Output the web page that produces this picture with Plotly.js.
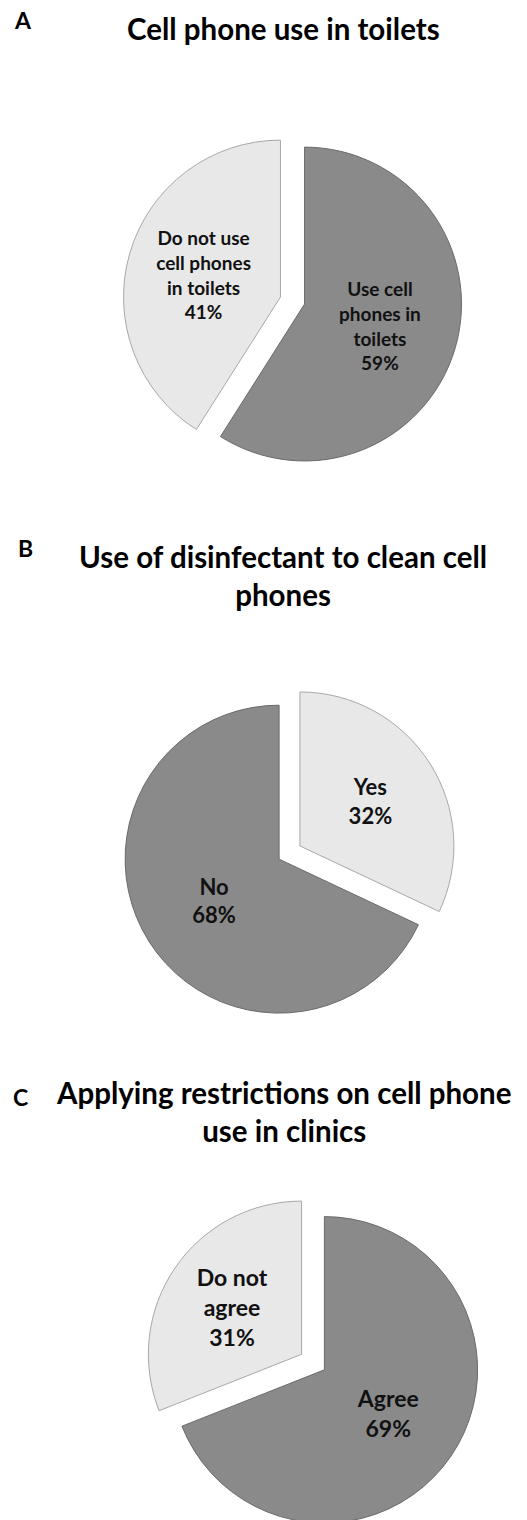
<!DOCTYPE html>
<html>
<head>
<meta charset="utf-8">
<script src="https://cdn.plot.ly/plotly-3.0.1.min.js"></script>
<style>
  html, body { margin: 0; padding: 0; background: #ffffff; overflow: hidden; }
  #chart { width: 527px; height: 1540px; }
</style>
</head>
<body>
<div id="chart"></div>
<script>
// ---- Data ----
const panelLetters = ['A', 'B', 'C'];
const panelTitles = [
  'Cell phone use in toilets',
  'Use of disinfectant to clean cell<br>phones',
  'Applying restrictions on cell phone<br>use in clinics'
];

// Panel A
const labelsA = ['Use cell phones in toilets', 'Do not use cell phones in toilets'];
const textA = ['Use cell<br>phones in<br>toilets', 'Do not use<br>cell phones<br>in toilets'];
const valuesA = [59, 41];

// Panel B
const labelsB = ['Yes', 'No'];
const textB = ['Yes', 'No'];
const valuesB = [32, 68];

// Panel C
const labelsC = ['Agree', 'Do not agree'];
const textC = ['Agree', 'Do not<br>agree'];
const valuesC = [69, 31];

// ---- Styling ----
const DARK = '#8a8a8a';
const LIGHT = '#e8e8e8';
const DARK_EDGE = '#6a6a6a';
const LIGHT_EDGE = '#a8a8a8';
const FONT = 'Lato, "Open Sans", "DejaVu Sans", sans-serif';
const H = 1540;

function pie(labels, text, values, colors, edges, domX, domY, pull, fsize) {
  return {
    type: 'pie',
    labels: labels,
    text: text,
    values: values,
    sort: false,
    direction: 'clockwise',
    rotation: 0,
    pull: pull,
    domain: { x: domX, y: domY },
    marker: { colors: colors, line: { color: edges, width: 1 } },
    textinfo: 'text+percent',
    texttemplate: '%{text}<br>%{percent}',
    textposition: 'inside',
    insidetextorientation: 'horizontal',
    textfont: { family: FONT, size: fsize, color: '#111111', weight: 'bold' },
    hoverinfo: 'label+percent',
    showlegend: false
  };
}

const data = [
  pie(labelsA, textA, valuesA, [DARK, LIGHT], [DARK_EDGE, LIGHT_EDGE],
      [0.2334, 0.8767], [0.6948, 0.9149], [0.08, 0.08], 19),
  pie(labelsB, textB, valuesB, [LIGHT, DARK], [LIGHT_EDGE, DARK_EDGE],
      [0.2338, 0.8649], [0.3384, 0.5544], [0.08, 0.08], 22),
  pie(labelsC, textC, valuesC, [DARK, LIGHT], [DARK_EDGE, LIGHT_EDGE],
      [0.2770, 0.9108], [0.0071, 0.2240], [0.09, 0.09], 23)
];

const letterY = [20, 548, 1097];
const letterX = [23, 25, 20];
const titleY = [28, 575, 1111];

const annotations = [];
for (let i = 0; i < 3; i++) {
  annotations.push({
    text: panelLetters[i],
    xref: 'paper', yref: 'paper',
    x: letterX[i] / 527, y: (H - letterY[i]) / H,
    xanchor: 'center', yanchor: 'middle',
    showarrow: false,
    font: { family: FONT, size: 23, color: '#000000', weight: 'bold' }
  });
  annotations.push({
    text: panelTitles[i],
    xref: 'paper', yref: 'paper',
    x: 283 / 527, y: (H - titleY[i]) / H,
    xanchor: 'center', yanchor: 'middle',
    showarrow: false,
    font: { family: FONT, size: 29.5, color: '#000000', weight: 'bold' }
  });
}

const layout = {
  width: 527,
  height: H,
  margin: { l: 0, r: 0, t: 0, b: 0 },
  paper_bgcolor: '#ffffff',
  plot_bgcolor: '#ffffff',
  showlegend: false,
  annotations: annotations
};

Plotly.newPlot('chart', data, layout, { displayModeBar: false, staticPlot: true });
</script>
</body>
</html>
